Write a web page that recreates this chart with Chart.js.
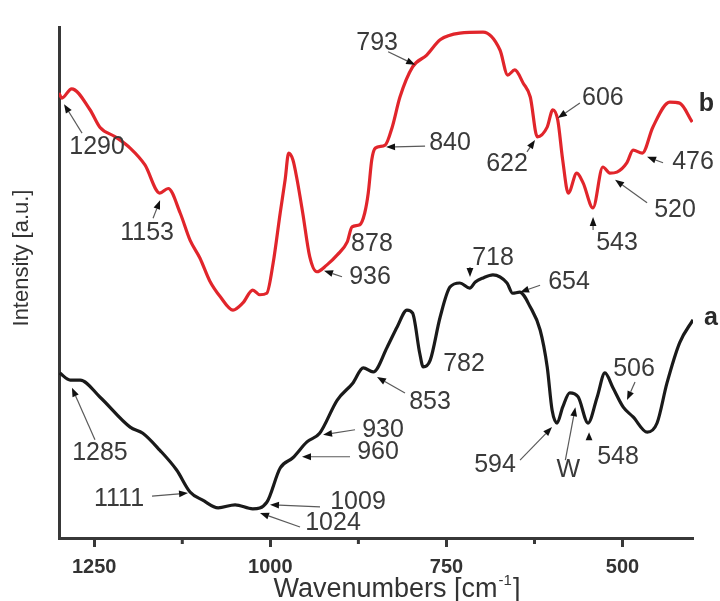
<!DOCTYPE html>
<html>
<head>
<meta charset="utf-8">
<script src="https://cdn.jsdelivr.net/npm/chart.js@4/dist/chart.umd.min.js"></script>
<style>
  html, body { margin: 0; padding: 0; background: #ffffff; }
  canvas { display: block; }
</style>
</head>
<body>
<canvas id="ftir" width="720" height="601"></canvas>
<script>
// FTIR spectra, wavenumber (cm-1) against intensity (a.u.)
// Spectrum b (upper, red)
const wavenumbersB = [1300, 1296, 1282, 1256, 1242, 1220, 1199, 1178, 1157, 1145,
  1128, 1114, 1100, 1086, 1071, 1053, 1039, 1025, 1015, 1005,
  996, 986, 979, 974, 968, 962, 954, 944, 934, 920,
  905, 891, 884, 873, 866, 861, 856, 851, 837, 827,
  816, 798, 778, 759, 731, 698, 674, 663, 653, 641,
  631, 621, 607, 599, 592, 585, 577, 565, 556, 542,
  528, 518, 508, 494, 485, 472, 457, 433, 419, 401];
const intensityB = [87.1, 86.1, 87.9, 83.8, 80.4, 78.5, 76.3, 73.0, 67.5, 68.4,
  63.6, 58.3, 54.8, 50.3, 47.2, 44.6, 46.0, 48.5, 47.6, 47.9,
  53.8, 63.6, 70.1, 75.3, 74.0, 70.1, 63.6, 55.0, 52.1, 53.4,
  55.4, 57.9, 60.9, 61.3, 63.6, 67.5, 74.0, 76.3, 76.9, 80.4,
  86.3, 92.2, 94.5, 97.5, 98.8, 99.0, 95.5, 90.6, 91.6, 89.0,
  86.3, 78.5, 80.4, 83.8, 81.8, 74.0, 67.5, 71.4, 69.5, 64.6,
  72.6, 71.4, 71.6, 73.4, 75.9, 75.3, 80.4, 85.3, 85.1, 81.4];

// Spectrum a (lower, black)
const wavenumbersA = [1299, 1284, 1270, 1242, 1199, 1181, 1157, 1133, 1114, 1096,
  1074, 1050, 1025, 1005, 986, 968, 948, 930, 905, 883,
  868, 854, 834, 820, 806, 798, 788, 783, 773, 759,
  745, 731, 717, 709, 698, 684, 664, 656, 646, 631,
  617, 607, 600, 593, 585, 575, 563, 549, 536, 525,
  514, 499, 485, 465, 451, 437, 419, 400];
const intensityA = [32.3, 30.9, 30.9, 27.6, 21.7, 20.5, 17.2, 13.3, 9.0, 7.4,
  5.9, 6.5, 5.7, 7.0, 13.7, 15.7, 18.8, 20.5, 27.0, 30.3,
  33.3, 32.5, 37.4, 41.3, 44.6, 44.0, 36.2, 33.5, 34.8, 43.2,
  49.1, 49.9, 48.9, 50.1, 50.9, 51.5, 49.9, 47.9, 48.1, 45.2,
  40.7, 33.5, 25.0, 22.5, 25.6, 28.4, 27.6, 22.5, 27.6, 32.3,
  29.5, 25.6, 23.7, 20.7, 22.5, 30.3, 38.2, 42.7];

// Axis ticks
const majorTicks = [500, 750, 1000, 1250];
const minorTicks = [625, 875, 1125];

// Band assignments: text, band position and intensity where the arrow lands
const bandLabels = ['1290', '1153', '936', '878', '840', '793', '606', '622', '543', '520', '476',
  '1285', '1111', '1024', '1009', '960', '930', '853', '782', '718', '654', '594', 'W', '548', '506'];
const bandWavenumbers = [1290, 1153, 936, 878, 840, 793, 606, 622, 543, 520, 476,
  1285, 1111, 1024, 1009, 960, 930, 853, 782, 718, 654, 594, 567, 548, 506];
const bandIntensities = [84.9, 66.1, 52.3, 60.7, 76.5, 92.6, 82.2, 77.9, 62.8, 70.1, 74.6,
  29.4, 8.8, 4.9, 6.5, 15.9, 20.2, 31.5, 33.5, 51.1, 48.1, 21.7, 25.6, 20.7, 27.0];

// Callout geometry in pixels relative to each band point:
// tip = horizontal shift of the arrowhead, tail = start of the leader, text = label centre
const calloutLayout = [
  { tip: -2, tail: [16, 29], text: [31, 43] },
  { tip: -2.5, tail: [-9.5, 18], text: [-15.5, 33] },
  { tip: 8.6, tail: [26.6, 6], text: [54.6, 6] },
  { tip: null, text: [15.7, 16] },
  { tip: 3, tail: [42, -1], text: [67, -4] },
  { tip: -1, tail: [-28, -13], text: [-39, -22] },
  { tip: 10, tail: [32, -15], text: [55, -20] },
  { tip: -1.6, tail: [-9.6, 12], text: [-29.6, 24] },
  { tip: 0.8, tail: [0.8, 13], text: [24.8, 26] },
  { tip: 6.6, tail: [38.6, 23], text: [66.6, 30] },
  { tip: 7.6, tail: [23.6, 6], text: [53.6, 5] },
  { tip: 2.4, tail: [25.4, 52], text: [30.4, 65] },
  { tip: -4.1, tail: [-40.1, 3], text: [-73.1, 6] },
  { tip: 6.6, tail: [46.6, 14], text: [79.6, 10] },
  { tip: 6, tail: [56, 2], text: [94, -3] },
  { tip: 3.5, tail: [51.5, 0], text: [79.5, -5] },
  { tip: 3.4, tail: [35.4, -5], text: [63.4, -5] },
  { tip: 3.1, tail: [31.1, 16], text: [56.1, 25] },
  { tip: null, text: [40.1, -3] },
  { tip: 1, tail: [1, -10], text: [24, -19] },
  { tip: 6, tail: [26, -7], text: [55, -10] },
  { tip: -4.3, tail: [-36.3, 33], text: [-61.3, 38] },
  { tip: 0, tail: [-10, 53], text: [-7, 63] },
  { tip: 0.3, tail: [0.3, 8], text: [29.3, 25] },
  { tip: 8.7, tail: [16.7, -18], text: [15.7, -31] }
];

const TEXT_FONT = "'Liberation Sans', Arial, sans-serif";
const AXIS_COLOR = '#383838';
const LABEL_COLOR = '#3a3a3a';

function toPoints(xs, ys) {
  return xs.map((x, i) => ({ x: x, y: ys[i] }));
}

function drawArrow(ctx, x0, y0, x1, y1) {
  const dx = x1 - x0, dy = y1 - y0;
  const len = Math.hypot(dx, dy);
  if (len < 0.5) return;
  const ux = dx / len, uy = dy / len;
  const headLen = Math.min(9, len);
  const headHalf = 3.4;
  const bx = x1 - ux * headLen, by = y1 - uy * headLen;
  ctx.strokeStyle = '#5a5a5a';
  ctx.lineWidth = 1.2;
  ctx.beginPath();
  ctx.moveTo(x0, y0);
  ctx.lineTo(bx, by);
  ctx.stroke();
  ctx.fillStyle = '#111111';
  ctx.beginPath();
  ctx.moveTo(x1, y1);
  ctx.lineTo(bx - uy * headHalf, by + ux * headHalf);
  ctx.lineTo(bx + uy * headHalf, by - ux * headHalf);
  ctx.closePath();
  ctx.fill();
}

const calloutPlugin = {
  id: 'bandCallouts',
  afterDatasetsDraw(chart) {
    const ctx = chart.ctx;
    const xs = chart.scales.x, ys = chart.scales.y;
    ctx.save();

    // minor tick marks under the wavenumber axis
    ctx.fillStyle = AXIS_COLOR;
    const axisY = chart.chartArea.bottom;
    minorTicks.forEach(v => {
      const px = xs.getPixelForValue(v);
      ctx.fillRect(px - 1.5, axisY + 2, 3, 4);
    });

    // band arrows and labels
    ctx.font = '25px ' + TEXT_FONT;
    ctx.textAlign = 'center';
    ctx.textBaseline = 'middle';
    bandLabels.forEach((label, i) => {
      const px = xs.getPixelForValue(bandWavenumbers[i]);
      const py = ys.getPixelForValue(bandIntensities[i]);
      const c = calloutLayout[i];
      if (c.tip !== null) {
        drawArrow(ctx, px + c.tail[0], py + c.tail[1], px + c.tip, py);
      }
      ctx.fillStyle = LABEL_COLOR;
      ctx.fillText(label, px + c.text[0], py + c.text[1]);
    });

    // spectrum identifiers at the right-hand ends
    ctx.font = 'bold 25px ' + TEXT_FONT;
    ctx.fillStyle = '#2a2a2a';
    const endB = chart.getDatasetMeta(0).data.at(-1);
    const endA = chart.getDatasetMeta(1).data.at(-1);
    ctx.fillText('b', endB.x + 14, endB.y - 18);
    ctx.fillText('a', endA.x + 18, endA.y - 2);

    // axis titles
    ctx.fillStyle = '#333333';
    ctx.save();
    ctx.translate(22, 258);
    ctx.rotate(-Math.PI / 2);
    ctx.font = '22px ' + TEXT_FONT;
    ctx.fillText('Intensity [a.u.]', 0, 0);
    ctx.restore();

    const main = 'Wavenumbers [cm';
    const sup = '-1';
    const close = ']';
    ctx.font = '27px ' + TEXT_FONT;
    const wMain = ctx.measureText(main).width;
    const wClose = ctx.measureText(close).width;
    ctx.font = '15px ' + TEXT_FONT;
    const wSup = ctx.measureText(sup).width;
    const total = wMain + wSup + 2 + wClose;
    let tx = 397 - total / 2;
    const ty = 590;
    ctx.textAlign = 'left';
    ctx.font = '27px ' + TEXT_FONT;
    ctx.fillText(main, tx, ty);
    tx += wMain + 1;
    ctx.font = '15px ' + TEXT_FONT;
    ctx.fillText(sup, tx, ty - 9);
    tx += wSup + 1;
    ctx.font = '27px ' + TEXT_FONT;
    ctx.fillText(close, tx, ty);

    ctx.restore();
  }
};

new Chart(document.getElementById('ftir'), {
  type: 'line',
  data: {
    datasets: [
      {
        label: 'b',
        data: toPoints(wavenumbersB, intensityB),
        borderColor: '#e1252b',
        borderWidth: 3.2,
        pointRadius: 0,
        cubicInterpolationMode: 'monotone',
        fill: false
      },
      {
        label: 'a',
        data: toPoints(wavenumbersA, intensityA),
        borderColor: '#1a1a1a',
        borderWidth: 3.2,
        pointRadius: 0,
        cubicInterpolationMode: 'monotone',
        fill: false
      }
    ]
  },
  options: {
    responsive: false,
    animation: false,
    events: [],
    layout: { padding: { left: 0, right: 27, top: 27, bottom: 0 } },
    plugins: {
      legend: { display: false },
      tooltip: { enabled: false },
      title: { display: false }
    },
    scales: {
      x: {
        type: 'linear',
        reverse: true,
        min: 400,
        max: 1300,
        afterBuildTicks: scale => {
          scale.ticks = majorTicks.concat(minorTicks).sort((p, q) => p - q).map(v => ({ value: v }));
        },
        afterFit: scale => { scale.height = 63; },
        grid: {
          display: true,
          drawOnChartArea: false,
          drawTicks: true,
          tickLength: 9,
          tickWidth: 3,
          tickColor: ctx => (ctx.tick && majorTicks.includes(ctx.tick.value)) ? AXIS_COLOR : 'rgba(0,0,0,0)'
        },
        border: { display: true, color: AXIS_COLOR, width: 3 },
        ticks: {
          autoSkip: false,
          maxRotation: 0,
          padding: 8,
          color: '#333333',
          font: { family: TEXT_FONT, size: 20, weight: 'bold' },
          callback: v => majorTicks.includes(v) ? String(v) : ''
        }
      },
      y: {
        type: 'linear',
        min: 0,
        max: 100,
        afterFit: scale => { scale.width = 59; },
        grid: { display: false },
        ticks: { display: false },
        border: { display: true, color: AXIS_COLOR, width: 3 }
      }
    }
  },
  plugins: [calloutPlugin]
});
</script>
</body>
</html>
